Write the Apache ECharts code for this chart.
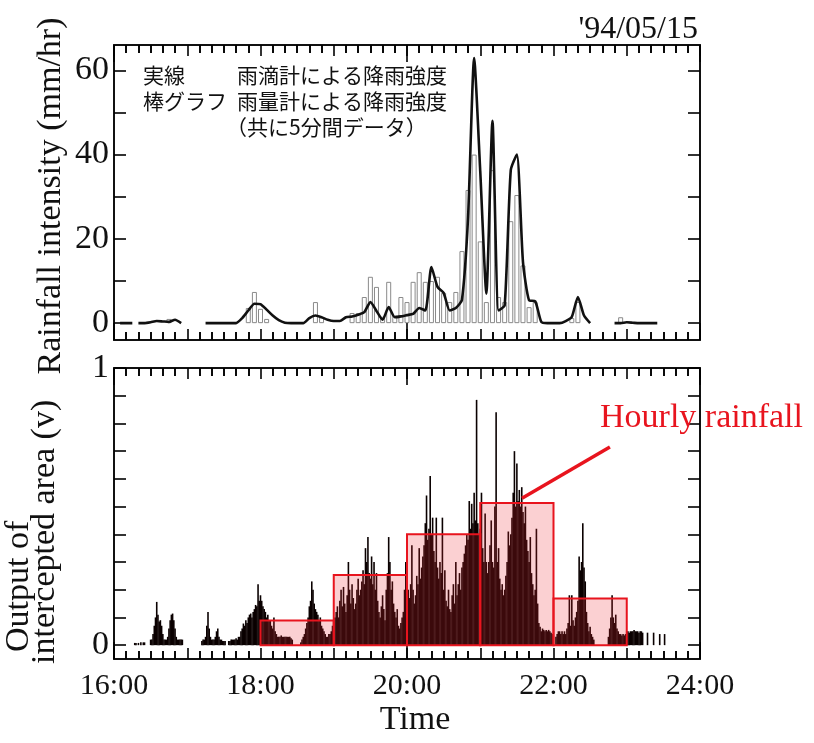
<!DOCTYPE html>
<html><head><meta charset="utf-8">
<script src="https://cdn.jsdelivr.net/npm/echarts@6/dist/echarts.min.js"></script>
<style>html,body{margin:0;padding:0;background:#fff}#c{width:814px;height:743px}</style>
</head><body><div id="c"></div>
<script>
// ---------- data ----------
const hourTickStart = 16, hourTickEnd = 24;          // x axis, hours
const hourLabels = [16, 18, 20, 22, 24];               // labelled hours
const minorTicksPerHour = 6;                           // 10-minute ticks
const topYTicks = [0, 10, 20, 30, 40, 50, 60];
const topYLabels = [0, 20, 40, 60];
const botYTicks = [0, 0.1, 0.2, 0.3, 0.4, 0.5, 0.6, 0.7, 0.8, 0.9, 1];
const botYLabels = [0, 1];

// rain gauge (bar graph), 5-minute data, mm/hr
const gaugeTimes = ['16:45','17:50','17:55','18:00','18:05','18:45','18:50',
  '19:15','19:20','19:25','19:30','19:35','19:40','19:45','19:50','19:55',
  '20:00','20:05','20:10','20:15','20:20','20:25','20:30','20:35','20:40','20:45','20:50','20:55',
  '21:00','21:05','21:10','21:15','21:20','21:25','21:30','21:35','21:40','21:45',
  '22:15','22:20','22:55'];
const gaugeValues = [1.0,3.6,7.4,3.4,1.0,5.0,1.4,
  2.4,2.4,6.2,11,8.6,1.5,9.8,1.8,6.2,
  5,9.8,12.1,9.8,10,11,7.2,5,7.4,17.1,31.6,40,
  19.4,5,36.3,6.2,5,24.2,30.4,13.7,3.8,5,
  1.2,5,1.4];

// raindrop gauge (solid line), 5-minute data, mm/hr ('-' = no data)
const dropTimes = ['16:05','16:10','16:15','16:17',
  '16:20','16:25','16:30','16:35','16:40','16:45','16:50','16:55','17:00',
  '17:15','17:20','17:25','17:30','17:35','17:40','17:45','17:50','17:55',
  '18:00','18:05','18:10','18:15','18:20','18:25','18:30','18:35','18:40','18:45','18:50','18:55',
  '19:00','19:05','19:10','19:15','19:20','19:25','19:30','19:35','19:40','19:45','19:50','19:55',
  '20:00','20:05','20:10','20:15','20:20','20:25','20:30','20:35','20:40','20:45','20:50','20:55',
  '21:00','21:05','21:10','21:15','21:20','21:25','21:30','21:35','21:40','21:45','21:50','21:55',
  '22:00','22:05','22:10','22:15','22:20','22:25','22:30','22:35',
  '22:50','22:55','23:00','23:05','23:10','23:15','23:20','23:25'];
const dropValues = [0,0,0,'-',
  0,0,0.2,0.5,0.4,0.3,0.8,0,'-',
  0,0,0,0,0,0,1.2,3.0,4.6,
  4.5,3.2,1.8,0.7,0.1,0,0,0,1.2,1.8,1.4,0.8,
  0.5,0.5,1.4,1.6,2.0,2.6,5.0,2.9,0.8,3.8,1.4,1.6,
  1.9,2.2,3.6,3.0,13.3,8.6,7.2,3.0,3.6,5.5,25,62.9,
  36,7,48,3.0,4.2,36.3,40,14.5,5.4,5.2,0.3,0,
  0,0,0.5,1.5,6.2,1.8,0,'-',
  0,0,0.2,0.1,0,0,0,0];

// hourly rainfall boxes (on the output scale)
const hourlyStart = [18, 19, 20, 21, 22];
const hourlyValues = [0.089, 0.253, 0.40, 0.513, 0.168];

// output of intercepted area (v), one value per minute of each hour (null = no data)
const out16 = [null,null,null,null,null,null,null,null,null,null,
  null,null,null,null,null,null,null,0.008,0.008,null,
  0.008,null,0.01,null,0.01,0.01,null,null,null,null,
  0.02,0.02,0.04,0.07,0.1,0.156,0.11,0.085,0.09,0.07,
  0.04,0.02,0.02,0.02,0.03,0.06,0.09,0.11,0.114,0.09,
  0.06,0.03,0.02,0.02,0.02,0.02,0.02,null,null,null];
const out17 = [null,null,null,null,null,null,null,null,null,null,
  null,null,0.015,0.02,0.02,0.03,0.07,0.12,0.06,0.03,
  0.02,0.02,0.02,0.03,0.05,0.06,0.03,0.02,0.02,0.015,
  0.015,0.015,null,null,0.015,0.015,0.02,0.02,0.02,0.02,
  0.025,0.02,0.03,0.03,0.05,0.06,0.078,0.07,0.09,0.08,
  0.1,0.11,0.114,0.1,0.12,0.13,0.145,0.14,0.22,0.16];
const out18 = [0.18,0.16,0.14,0.13,0.12,0.1,0.11,0.09,0.09,0.07,
  0.06,0.1,0.05,0.04,0.03,0.03,0.03,0.035,0.03,0.03,
  0.03,0.03,0.03,0.03,0.03,0.025,0.02,null,null,null,
  null,null,null,0.01,0.02,0.03,0.04,0.06,0.08,0.1,
  0.14,0.16,0.23,0.2,0.15,0.13,0.12,0.11,0.09,0.1,
  0.07,0.06,0.05,0.04,0.03,0.03,0.04,0.04,0.05,0.07];
const out19 = [0.09,0.1,0.12,0.14,0.1,0.16,0.2,0.14,0.21,0.15,
  0.12,0.18,0.3,0.2,0.15,0.22,0.17,0.13,0.15,0.2,
  0.24,0.18,0.2,0.23,0.27,0.22,0.35,0.3,0.39,0.26,
  0.24,0.32,0.22,0.3,0.2,0.26,0.16,0.12,0.1,0.14,
  0.18,0.13,0.09,0.2,0.26,0.39,0.3,0.2,0.23,0.15,
  0.12,0.1,0.13,0.07,0.06,0.08,0.1,0.12,0.2,0.3];
const out20 = [0.25,0.2,0.17,0.22,0.36,0.2,0.15,0.18,0.25,0.22,
  0.35,0.24,0.28,0.32,0.36,0.44,0.54,0.38,0.42,0.61,
  0.4,0.46,0.34,0.3,0.46,0.28,0.24,0.3,0.26,0.46,
  0.2,0.27,0.16,0.14,0.2,0.13,0.12,0.18,0.22,0.15,
  0.3,0.18,0.22,0.26,0.2,0.28,0.3,0.33,0.36,0.4,
  0.38,0.52,0.42,0.51,0.44,0.55,0.45,0.885,0.44,0.4];
const out21 = [0.42,0.55,0.35,0.3,0.475,0.3,0.26,0.3,0.36,0.45,
  0.3,0.28,0.5,0.84,0.3,0.35,0.24,0.2,0.22,0.18,
  0.2,0.25,0.3,0.41,0.36,0.4,0.46,0.55,0.7,0.5,
  0.655,0.52,0.56,0.5,0.57,0.48,0.44,0.5,0.38,0.34,
  0.3,0.39,0.26,0.22,0.18,0.2,0.42,0.15,0.08,0.066,
  0.05,0.06,0.055,0.05,0.055,0.05,0.055,0.05,0.045,0.04];
const out22 = [null,null,0.03,0.04,0.05,0.05,0.04,0.05,0.04,0.05,
  0.04,0.06,0.08,0.18,0.07,0.18,0.09,0.07,0.1,0.12,
  0.16,0.32,0.27,0.3,0.44,0.28,0.23,0.12,0.08,0.05,
  0.066,0.04,0.03,0.02,null,null,null,null,null,null,
  null,null,null,null,null,0.03,0.06,0.1,0.18,0.1,
  0.08,0.11,0.06,0.05,0.04,0.04,0.035,0.04,0.035,0.04];
const out23 = [0.05,0.05,0.045,0.05,0.05,0.05,0.055,0.05,0.05,0.05,
  0.045,0.05,0.05,0.045,null,null,null,0.045,null,null,
  null,null,0.045,null,null,null,null,0.04,null,null,
  null,0.04,null,null,null,null,null,null,null,null,
  null,null,null,null,null,null,null,null,null,null,
  null,null,null,null,null,null,null,null,null,null];
const outputHours = [16, 17, 18, 19, 20, 21, 22, 23];

// ---------- build ----------
const toHour = s => { const p = s.split(':').map(Number); return p[0] + p[1] / 60; };
const gaugeData = gaugeTimes.map((t, i) => [toHour(t), gaugeValues[i]]);
const dropData = dropTimes.map((t, i) => [toHour(t), dropValues[i]]);
const outputArrays = [out16, out17, out18, out19, out20, out21, out22, out23];
const outData = [];
outputHours.forEach((h, i) => outputArrays[i].forEach((v, m) => { if (v !== null) outData.push([h + m / 60, v]); }));
const hourlyData = hourlyStart.map((s, i) => [s, hourlyValues[i], s + 1]);
const minorTickValues = [];
for (let k = 1; k < (hourTickEnd - hourTickStart) * minorTicksPerHour; k++) {
  if (k % minorTicksPerHour !== 0) minorTickValues.push(hourTickStart + k / minorTicksPerHour);
}

const SERIF = '"Liberation Serif","Times New Roman",serif';
const JP = '"Noto Sans CJK JP","Noto Sans CJK SC",sans-serif';
const INK = '#111';

const grids = [
  {left: 114, top: 45, width: 586, height: 295},
  {left: 114, top: 368, width: 586, height: 291}
];

const xAxes = [];
[0, 1].forEach(g => {
  ['bottom', 'top'].forEach(pos => {
    xAxes.push({
      type: 'value', gridIndex: g, position: pos, min: hourTickStart, max: hourTickEnd, interval: 1,
      axisLine: {onZero: false, lineStyle: {color: INK, width: 2}},
      axisTick: {show: true, inside: true, length: 11, lineStyle: {color: '#000', width: 1.6}},
      minorTick: {show: true, splitNumber: minorTicksPerHour, length: 8, lineStyle: {color: '#000', width: 1.6}},
      splitLine: {show: false},
      axisLabel: {show: g === 1 && pos === 'bottom',
        formatter: v => hourLabels.indexOf(v) >= 0 ? v + ':00' : '',
        fontFamily: SERIF, fontSize: 30, color: INK, margin: 12}
    });
    xAxes.push({  // 10-minute ticks
      type: 'value', gridIndex: g, position: pos, min: hourTickStart, max: hourTickEnd,
      axisLine: {show: false, onZero: false},
      axisTick: {show: true, inside: true, length: 8, customValues: minorTickValues, lineStyle: {color: '#000', width: 1.6}},
      axisLabel: {show: false}, splitLine: {show: false}
    });
    xAxes.push({  // long tick every 4 hours
      type: 'value', gridIndex: g, position: pos, min: hourTickStart, max: hourTickEnd, interval: 4,
      axisLine: {show: false, onZero: false},
      axisTick: {show: true, inside: true, length: 17, lineStyle: {color: '#000', width: 1.6}},
      axisLabel: {show: false}, splitLine: {show: false}
    });
  });
});

function yAxisDef(g, pos, min, max, ticks, labels, fmt) {
  return {
    type: 'value', gridIndex: g, position: pos, min: min, max: max,
    axisLine: {show: true, onZero: false, lineStyle: {color: INK, width: 2}},
    axisTick: {show: true, inside: true, length: 12, customValues: ticks, lineStyle: {color: '#000', width: 1.6}},
    axisLabel: {show: pos === 'left', customValues: labels, formatter: fmt,
      fontFamily: SERIF, fontSize: 34, color: INK, margin: 5},
    splitLine: {show: false}
  };
}
const yAxes = [
  yAxisDef(0, 'left', -4, 66, topYTicks, topYLabels, v => String(v)),
  yAxisDef(0, 'right', -4, 66, topYTicks, topYLabels, v => String(v)),
  yAxisDef(1, 'left', -0.05, 1, botYTicks, botYLabels, v => String(Math.round(v))),
  yAxisDef(1, 'right', -0.05, 1, botYTicks, botYLabels, v => String(Math.round(v)))
];

// x axis index 0 = top grid bottom, 6 = bottom grid bottom
const option = {
  animation: false,
  backgroundColor: '#fff',
  grid: grids,
  xAxis: xAxes,
  yAxis: yAxes,
  series: [
    {type: 'bar', xAxisIndex: 0, yAxisIndex: 0, data: gaugeData, barWidth: 5,
      itemStyle: {color: 'rgba(255,255,255,0)', borderColor: '#8a8a8a', borderWidth: 1}, z: 2},
    {type: 'line', xAxisIndex: 0, yAxisIndex: 0, data: dropData, showSymbol: false, symbol: 'none',
      smooth: 0.2, connectNulls: false, lineStyle: {color: INK, width: 2.6}, z: 3},
    {type: 'bar', xAxisIndex: 6, yAxisIndex: 2, data: outData, barWidth: 1.6,
      itemStyle: {color: '#0a0000'}, z: 2,
      markLine: {silent: true, symbol: ['none', 'arrow'], symbolSize: [0, 22], animation: false,
        lineStyle: {color: '#e8141e', width: 3.5, type: 'solid'}, label: {show: false},
        data: [[{coord: [22.77, 0.715]}, {coord: [21.57, 0.53]}]]}},
    {type: 'custom', xAxisIndex: 6, yAxisIndex: 2, data: hourlyData, z: 4,
      encode: {x: [0, 2], y: 1},
      renderItem: (params, api) => {
        const p0 = api.coord([api.value(0), api.value(1)]);
        const p1 = api.coord([api.value(2), 0]);
        return {type: 'rect', shape: {x: p0[0], y: p0[1], width: p1[0] - p0[0], height: p1[1] - p0[1]},
          style: {fill: 'rgba(236,40,50,0.22)', stroke: '#e8141e', lineWidth: 2}};
      }}
  ],
  graphic: [
    {type: 'text', x: 698, y: 30, style: {text: "'94/05/15", font: '32px ' + SERIF, fill: INK, align: 'right', verticalAlign: 'middle'}},
    {type: 'text', x: 143, y: 75, style: {text: '実線', font: '21px ' + JP, fill: INK, verticalAlign: 'middle'}},
    {type: 'text', x: 237, y: 75, style: {text: '雨滴計による降雨強度', font: '21px ' + JP, fill: INK, verticalAlign: 'middle'}},
    {type: 'text', x: 143, y: 101, style: {text: '棒グラフ', font: '21px ' + JP, fill: INK, verticalAlign: 'middle'}},
    {type: 'text', x: 237, y: 101, style: {text: '雨量計による降雨強度', font: '21px ' + JP, fill: INK, verticalAlign: 'middle'}},
    {type: 'text', x: 226, y: 127, style: {text: '（共に5分間データ）', font: '21px ' + JP, fill: INK, verticalAlign: 'middle'}},
    {type: 'text', x: 51, y: 196, rotation: Math.PI / 2, style: {text: 'Rainfall intensity (mm/hr)', font: '34px ' + SERIF, fill: INK, align: 'center', verticalAlign: 'middle'}},
    {type: 'text', x: 19, y: 652, rotation: Math.PI / 2, style: {text: 'Output of', font: '34px ' + SERIF, fill: INK, align: 'left', verticalAlign: 'middle'}},
    {type: 'text', x: 45, y: 664, rotation: Math.PI / 2, style: {text: 'intercepted area (v)', font: '34px ' + SERIF, fill: INK, align: 'left', verticalAlign: 'middle'}},
    {type: 'text', x: 415, y: 720, style: {text: 'Time', font: '34px ' + SERIF, fill: INK, align: 'center', verticalAlign: 'middle'}},
    {type: 'text', x: 600, y: 418, style: {text: 'Hourly rainfall', font: '34px ' + SERIF, fill: '#e8141e', align: 'left', verticalAlign: 'middle'}, z: 10}
  ]
};
const chart = echarts.init(document.getElementById('c'), null, {renderer: 'canvas'});
chart.setOption(option);
</script></body></html>
